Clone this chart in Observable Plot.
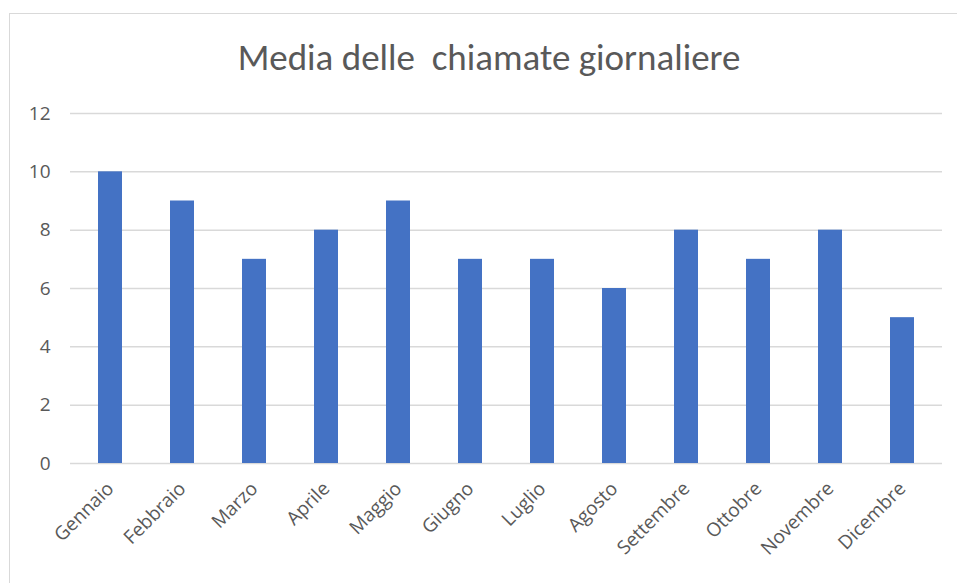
<!DOCTYPE html>
<html>
<head>
<meta charset="utf-8">
<script src="https://cdn.jsdelivr.net/npm/d3@7"></script>
<script src="https://cdn.jsdelivr.net/npm/@observablehq/plot@0.6"></script>
<style>
  html, body { margin: 0; padding: 0; background: #fff; overflow: hidden; }
  #wrap { position: relative; width: 957px; height: 583px; }
  #frame { position: absolute; left: 9px; top: 13px; width: 980px; height: 600px; border: 1px solid #d9d9d9; box-sizing: border-box; }
  #title { position: absolute; left: 0; top: 36px; width: 978px; text-align: center; font-family: Carlito, Lato, "Open Sans", sans-serif; font-weight: 300; font-size: 37px; line-height: 44px; color: #595959; white-space: pre; }
  #chart { position: absolute; left: 0; top: 0; }
</style>
</head>
<body>
<div id="wrap">
  <div id="frame"></div>
  <div id="chart"></div>
  <div id="title">Media delle  chiamate giornaliere</div>
</div>
<script>
const months = ["Gennaio","Febbraio","Marzo","Aprile","Maggio","Giugno","Luglio","Agosto","Settembre","Ottobre","Novembre","Dicembre"];
const calls = [10, 9, 7, 8, 9, 7, 7, 6, 8, 7, 8, 5];
const yTicks = [0, 2, 4, 6, 8, 10, 12];

const data = months.map((m, i) => ({month: m, value: calls[i]}));

const chart = Plot.plot({
  width: 957,
  height: 583,
  marginLeft: 70,
  marginRight: 15,
  marginTop: 113,
  marginBottom: 120,
  style: { fontFamily: "'Open Sans', 'Noto Sans', sans-serif", fontSize: "20px", color: "#595959", background: "transparent" },
  x: { domain: months, paddingInner: 0.67, paddingOuter: 0.34, label: null },
  y: { domain: [0, 12], ticks: yTicks, label: null },
  marks: [
    Plot.gridY(yTicks, { stroke: "#d9d9d9", strokeOpacity: 1, strokeWidth: 1.5 }),
    Plot.barY(data, { x: "month", y: "value", fill: "#4472c4" }),
    Plot.axisY(yTicks, { tickSize: 0, tickPadding: 20, fontSize: 19, fill: "#595959", label: null }),
    Plot.axisX({ tickSize: 0, tickRotate: -45, tickPadding: 22, fontSize: 19, fill: "#595959", label: null })
  ]
});
document.getElementById("chart").appendChild(chart);
</script>
</body>
</html>
